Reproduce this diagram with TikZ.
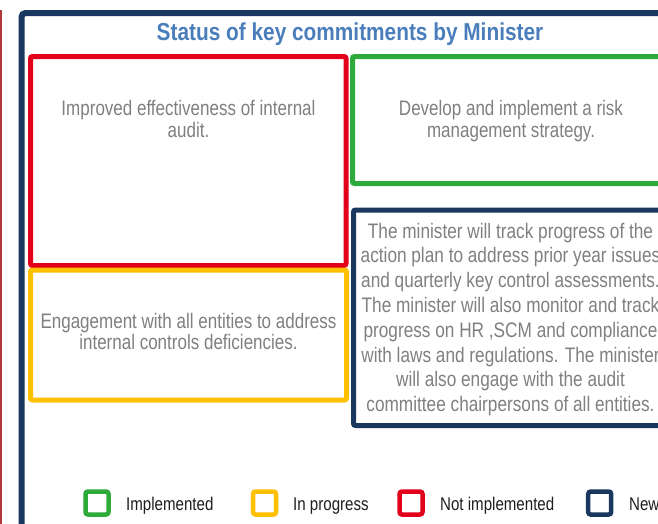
\documentclass[tikz,border=0pt]{standalone}
\usepackage{fontspec}
\setmainfont{Liberation Sans}
\newfontfamily\narrowf{Liberation Sans}[FakeStretch=0.81]
\newfontfamily\narrowg{Liberation Sans}[FakeStretch=0.82]
\newfontfamily\titlef{Liberation Sans}[FakeStretch=0.85]
\definecolor{navyc}{RGB}{25,55,95}
\definecolor{redc}{RGB}{227,0,27}
\definecolor{greenc}{RGB}{46,170,58}
\definecolor{yellowc}{RGB}{255,192,0}
\definecolor{titlec}{RGB}{74,126,187}
\definecolor{textc}{RGB}{128,128,128}
\definecolor{legc}{RGB}{30,30,30}
\definecolor{edgec}{RGB}{176,56,58}
\begin{document}
\begin{tikzpicture}[x=1pt,y=-1pt,
  box/.style={line width=5pt,rounded corners=2pt},
  boxtext/.style={inner sep=0pt,align=center,text=textc,font=\narrowf\fontsize{21}{21.6}\selectfont},
  legsq/.style={draw,line width=4.5pt,rounded corners=2.5pt,minimum size=23pt,inner sep=0pt},
  legtext/.style={inner sep=0pt,anchor=base west,text=legc,font=\narrowg\fontsize{18.4}{20}\selectfont}]
\useasboundingbox (0,0) rectangle (658,523);
\clip (0,0) rectangle (658,523);
\fill[white] (0,0) rectangle (658,523);
% thin red edge at the left
\draw[edgec,line width=1.6pt] (0.8,10) -- (0.8,530);
% outer frame
\draw[navyc,line width=6pt,rounded corners=4pt] (21.5,13) rectangle (690,560);
% title
\node[inner sep=0pt,anchor=base,text=titlec,font=\titlef\bfseries\fontsize{24.5}{26}\selectfont] (title) at (350,40) {Status of key commitments by Minister};
% boxes
\draw[box,redc] (30.5,56.5) rectangle (346,265.5);
\draw[box,greenc] (352.5,56.5) rectangle (670,183.5);
\draw[box,yellowc] (30.5,270) rectangle (346.5,400);
\draw[box,navyc] (353.5,210) rectangle (668,425.5);
% texts
\node[boxtext,anchor=north] (t1) at (188.5,100) {Improved effectiveness of internal\\audit.};
\node[boxtext,anchor=north] (t2) at (511,100) {Develop and implement a risk\\management strategy.};
\node[boxtext,anchor=north] (t3) at (188.5,312.7) {Engagement with all entities to address\\internal controls deficiencies.};
\node[boxtext,anchor=north,font=\narrowg\fontsize{21}{24.8}\selectfont] (t4) at (510.5,222.7) {The minister will track progress of the\\action plan to address prior year issues\\and quarterly key control assessments.\\The minister will also monitor and track\\progress on HR ,SCM and compliance\\with laws and regulations. The minister\\will also engage with the audit\\committee chairpersons of all entities.};
% legend
\node[legsq,greenc] (sq1) at (97,503) {};
\node[legtext] (l1) at (126,510) {Implemented};
\node[legsq,yellowc] (sq2) at (264.5,503) {};
\node[legtext] (l2) at (293,510) {In progress};
\node[legsq,redc] (sq3) at (411,503) {};
\node[legtext] (l3) at (440,510) {Not implemented};
\node[legsq,navyc] (sq4) at (599.7,503) {};
\node[legtext] (l4) at (629,510) {New};
\end{tikzpicture}
\end{document}
